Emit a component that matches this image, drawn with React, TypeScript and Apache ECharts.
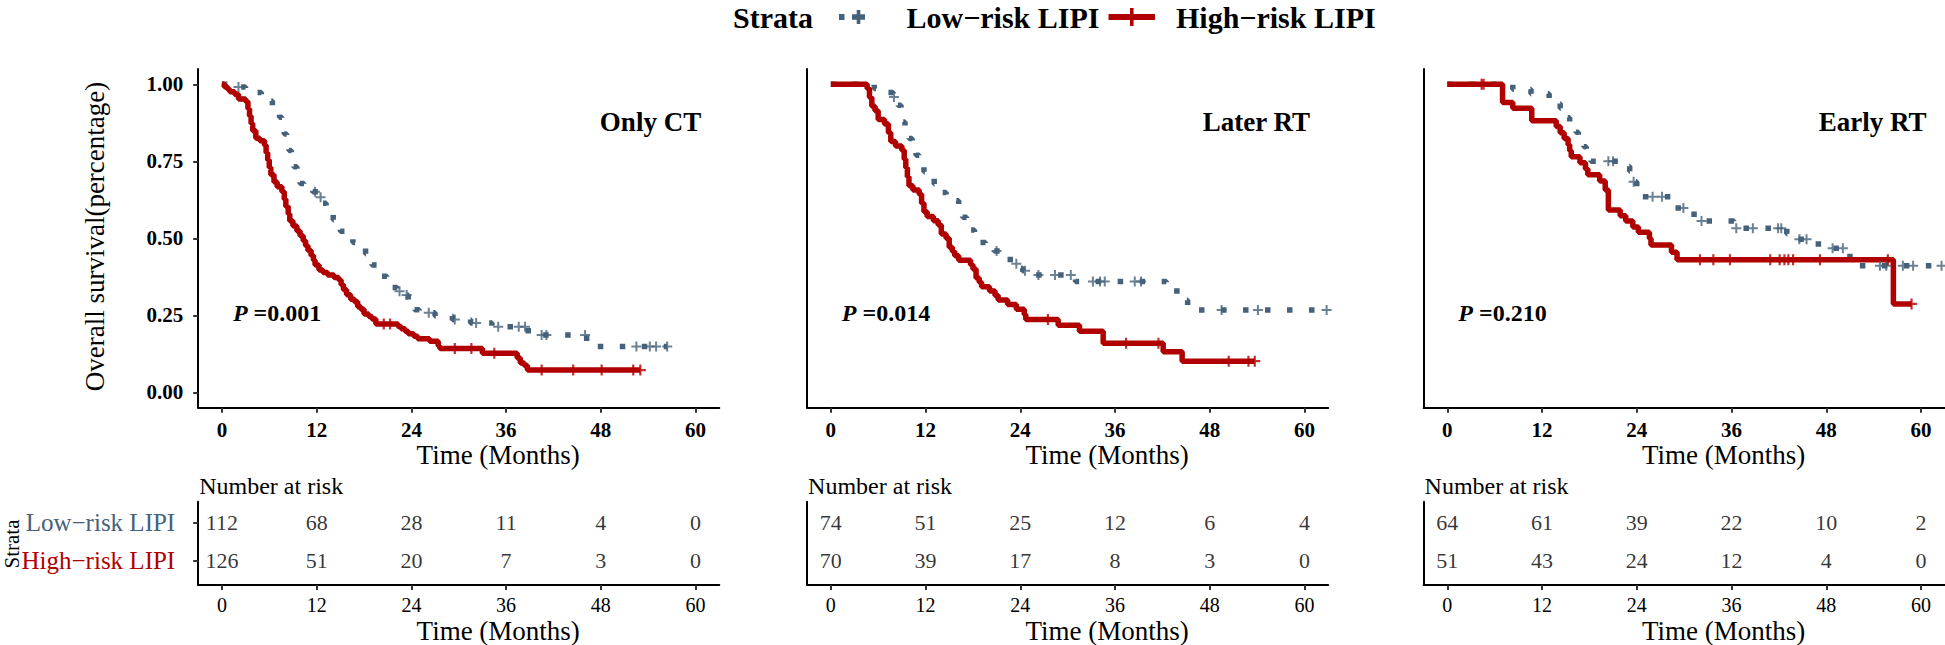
import React, { useEffect, useRef } from 'react';
import * as echarts from 'echarts';

// ---------- data ----------
const MONTH_TICKS = [0, 12, 24, 36, 48, 60];
const SURV_TICKS = [0, 0.25, 0.5, 0.75, 1];
const STRATA = ['Low−risk LIPI', 'High−risk LIPI'];
const PANEL_LABELS = ['Only CT', 'Later RT', 'Early RT'];
const P_VALUES = ['0.001', '0.014', '0.210'];

// Kaplan-Meier steps [month, survival]
const ctLow = [[0,1],[1.5,0.991],[3.0,0.982],[4.2,0.973],[5.0,0.964],[5.8,0.946],[6.4,0.928],[6.9,0.910],[7.3,0.893],[7.6,0.866],[7.9,0.839],[8.2,0.812],[8.5,0.785],[8.8,0.759],[9.1,0.732],[9.5,0.705],[9.9,0.678],[10.4,0.660],[11.5,0.651],[12.4,0.633],[12.8,0.614],[13.2,0.596],[13.6,0.578],[14.1,0.560],[14.5,0.541],[15.0,0.523],[15.8,0.505],[16.6,0.486],[17.5,0.468],[18.2,0.450],[18.6,0.431],[19.0,0.413],[19.6,0.395],[20.2,0.377],[20.9,0.358],[21.5,0.340],[22.2,0.328],[23.0,0.316],[23.6,0.300],[24.0,0.284],[24.4,0.268],[25.0,0.258],[27.0,0.248],[29.2,0.236],[31.5,0.225],[34.2,0.213],[38.8,0.186],[46.2,0.149],[56.4,0.149]];
const ctHigh = [[0,1],[0.3,0.992],[0.7,0.984],[1.0,0.976],[1.6,0.968],[2.1,0.952],[3.0,0.944],[3.3,0.921],[3.5,0.897],[3.7,0.873],[3.9,0.849],[4.3,0.825],[4.8,0.817],[5.4,0.802],[5.6,0.778],[5.8,0.754],[6.0,0.730],[6.2,0.706],[6.6,0.683],[7.0,0.667],[7.6,0.651],[7.9,0.627],[8.1,0.603],[8.4,0.579],[8.6,0.556],[9.0,0.540],[9.5,0.524],[9.9,0.508],[10.3,0.492],[10.6,0.476],[10.9,0.460],[11.3,0.444],[11.6,0.429],[11.8,0.413],[12.3,0.397],[12.8,0.389],[13.4,0.381],[14.2,0.373],[14.8,0.365],[15.1,0.349],[15.4,0.333],[15.8,0.317],[16.3,0.302],[16.8,0.294],[17.2,0.278],[17.6,0.270],[18.0,0.254],[18.6,0.246],[19.0,0.238],[19.5,0.222],[22.3,0.214],[22.7,0.206],[23.2,0.198],[23.6,0.190],[24.3,0.182],[24.8,0.174],[26.3,0.166],[27.4,0.150],[27.6,0.142],[33.0,0.127],[37.4,0.111],[37.8,0.095],[38.3,0.087],[38.7,0.072],[53.0,0.072]];
const ctLowCensor = [2.1, 11.8, 12.5, 22.5, 23.4, 26.2, 29.5, 32.2, 35.0, 37.6, 38.4, 40.5, 41.1, 46.0, 52.5, 54.2, 55.0, 56.4];
const ctHighCensor = [20.5, 21.3, 29.5, 31.6, 34.5, 40.5, 44.5, 48.1, 52.1, 53.0];

const lrLow = [[0,1],[5.5,0.986],[7.2,0.973],[7.9,0.959],[8.5,0.932],[8.9,0.905],[9.1,0.878],[9.4,0.851],[9.9,0.824],[10.3,0.797],[10.8,0.770],[11.2,0.743],[11.8,0.716],[12.4,0.703],[13.1,0.676],[13.7,0.649],[14.6,0.635],[15.5,0.622],[16.2,0.595],[16.7,0.568],[17.2,0.541],[17.7,0.527],[18.2,0.500],[18.7,0.486],[19.6,0.473],[20.7,0.459],[21.6,0.445],[22.3,0.431],[23.2,0.417],[23.9,0.403],[24.3,0.395],[24.8,0.381],[31.0,0.360],[42.5,0.329],[44.2,0.299],[45.2,0.267],[62.8,0.267]];
const lrHigh = [[0,1],[4.6,0.986],[4.9,0.957],[5.2,0.929],[5.6,0.914],[6.0,0.886],[6.8,0.871],[7.3,0.843],[7.6,0.814],[8.2,0.800],[9.0,0.786],[9.3,0.757],[9.5,0.729],[9.7,0.700],[9.9,0.671],[10.4,0.657],[11.2,0.643],[11.5,0.614],[11.8,0.586],[12.2,0.571],[13.0,0.557],[13.6,0.543],[14.0,0.514],[14.6,0.500],[15.0,0.471],[15.4,0.457],[15.7,0.443],[16.2,0.429],[17.7,0.414],[18.0,0.400],[18.4,0.371],[18.8,0.357],[19.1,0.343],[20.1,0.329],[20.8,0.314],[21.2,0.300],[22.4,0.285],[23.5,0.270],[24.5,0.253],[24.7,0.236],[28.8,0.218],[31.5,0.198],[34.5,0.159],[42.1,0.132],[44.5,0.101],[53.7,0.101]];
const lrLowCensor = [8.0, 21.0, 23.5, 24.6, 26.3, 28.4, 30.4, 33.2, 34.1, 34.7, 38.5, 39.3, 49.5, 54.1, 62.8];
const lrHighCensor = [27.5, 37.4, 41.5, 50.4, 52.9, 53.7];

const erLow = [[0,1],[8.3,0.984],[10.6,0.969],[12.9,0.953],[14.0,0.938],[14.3,0.922],[14.6,0.906],[15.2,0.891],[15.5,0.875],[15.8,0.859],[16.3,0.844],[16.6,0.828],[16.9,0.812],[17.3,0.797],[17.6,0.781],[17.9,0.765],[18.2,0.750],[22.0,0.734],[23.1,0.718],[23.3,0.701],[23.5,0.684],[24.0,0.668],[24.3,0.651],[24.6,0.635],[28.4,0.617],[28.7,0.598],[30.6,0.578],[31.8,0.556],[36.3,0.533],[43.0,0.515],[44.3,0.497],[47.0,0.468],[51.0,0.411],[62.6,0.411]];
const erHigh = [[0,1],[7.0,0.941],[8.3,0.922],[10.7,0.882],[13.8,0.863],[14.3,0.843],[14.8,0.824],[15.3,0.804],[15.5,0.784],[15.7,0.765],[16.8,0.745],[17.5,0.725],[17.8,0.706],[19.3,0.686],[20.0,0.657],[20.4,0.592],[21.9,0.573],[22.6,0.556],[23.5,0.537],[24.2,0.520],[25.6,0.499],[25.8,0.478],[28.4,0.455],[29.1,0.430],[56.5,0.287],[58.8,0.287]];
const erLowCensor = [20.4, 21.0, 23.6, 26.0, 27.2, 29.9, 32.2, 36.6, 38.7, 41.9, 42.3, 44.6, 45.5, 48.8, 50.1, 54.8, 55.6, 57.7, 59.0, 62.6];
const erHighCensor = [4.35, 4.6, 32.0, 33.7, 35.8, 40.9, 42.1, 42.7, 43.2, 43.8, 47.2, 55.8, 58.8];

// number at risk at MONTH_TICKS
const riskLow = [[112, 68, 28, 11, 4, 0], [74, 51, 25, 12, 6, 4], [64, 61, 39, 22, 10, 2]];
const riskHigh = [[126, 51, 20, 7, 3, 0], [70, 39, 17, 8, 3, 0], [51, 43, 24, 12, 4, 0]];

const CURVES = [
  { low: ctLow, high: ctHigh, lowC: ctLowCensor, highC: ctHighCensor },
  { low: lrLow, high: lrHigh, lowC: lrLowCensor, highC: lrHighCensor },
  { low: erLow, high: erHigh, lowC: erLowCensor, highC: erHighCensor },
];

// ---------- styling / layout ----------
const FONT = "'Liberation Serif', 'Times New Roman', serif";
const C_LOW = '#46617A';
const C_HIGH = '#B00000';
const XMIN = -3, XMAX = 63;
const YMIN = -0.05, YMAX = 1.05;
const GRID_LEFTS = [198.2, 807.1, 1423.6];
const GRID_W = 521.1;
const MAIN_TOP = 68.9, MAIN_H = 338.8;
const TAB_TOP = 501.7, TAB_H = 83.3;
const TAB_MIN = 0.35, TAB_MAX = 2.55;
const PLUS = 'path://M0,4L10,4L10,6L0,6ZM4,0L6,0L6,10L4,10Z';

const survAt = (steps, t) => {
  let s = 1;
  for (const [tt, ss] of steps) { if (tt <= t) s = ss; else break; }
  return s;
};
const mx = (i, t) => GRID_LEFTS[i] + ((t - XMIN) / (XMAX - XMIN)) * GRID_W;
const sy = (s) => MAIN_TOP + ((YMAX - s) / (YMAX - YMIN)) * MAIN_H;

function txt(x, y, str, size, o: any = {}) {
  return {
    type: 'text', x, y, rotation: o.rotation || 0, z: 100,
    style: {
      text: str, fill: o.color || '#000', fontFamily: FONT, fontSize: size,
      fontWeight: o.weight || 'normal', fontStyle: o.style || 'normal',
      align: o.align || 'left', textAlign: o.align || 'left',
      verticalAlign: 'middle', textVerticalAlign: 'middle',
      rich: o.rich,
    },
  };
}

function buildOption() {
  const grid: any[] = [], xAxis: any[] = [], yAxis: any[] = [], series: any[] = [];
  const axisLine = { show: true, onZero: false, lineStyle: { color: '#000', width: 2 } };
  for (let i = 0; i < 3; i++) {
    grid.push({ left: GRID_LEFTS[i], top: MAIN_TOP, width: GRID_W, height: MAIN_H });
  }
  for (let i = 0; i < 3; i++) {
    grid.push({ left: GRID_LEFTS[i], top: TAB_TOP, width: GRID_W, height: TAB_H });
  }
  for (let i = 0; i < 6; i++) {
    const main = i < 3;
    xAxis.push({
      type: 'value', gridIndex: i, min: XMIN, max: XMAX,
      axisLine,
      axisTick: { show: true, customValues: MONTH_TICKS, length: 5, lineStyle: { color: '#333', width: 2 } },
      axisLabel: {
        show: true, customValues: MONTH_TICKS, margin: main ? 12 : 10,
        fontFamily: FONT, fontSize: main ? 21 : 20, fontWeight: main ? 'bold' : 'normal', color: '#000',
      },
      splitLine: { show: false },
    });
  }
  for (let i = 0; i < 3; i++) {
    yAxis.push({
      type: 'value', gridIndex: i, min: YMIN, max: YMAX,
      axisLine,
      axisTick: { show: i === 0, customValues: SURV_TICKS, length: 5, lineStyle: { color: '#333', width: 2 } },
      axisLabel: {
        show: i === 0, customValues: SURV_TICKS, margin: 15,
        formatter: (v) => Number(v).toFixed(2),
        fontFamily: FONT, fontSize: 21, fontWeight: 'bold', color: '#000',
      },
      splitLine: { show: false },
    });
  }
  for (let i = 0; i < 3; i++) {
    yAxis.push({
      type: 'value', gridIndex: 3 + i, min: TAB_MIN, max: TAB_MAX,
      axisLine,
      axisTick: { show: i === 0, customValues: [1, 2], length: 5, lineStyle: { color: '#333', width: 2 } },
      axisLabel: {
        show: i === 0, customValues: [1, 2], margin: 23,
        formatter: (v) => (Number(v) === 2 ? '{l|' + STRATA[0] + '}' : '{h|' + STRATA[1] + '}'),
        rich: {
          l: { color: C_LOW, fontFamily: FONT, fontSize: 25 },
          h: { color: C_HIGH, fontFamily: FONT, fontSize: 25 },
        },
      },
      splitLine: { show: false },
    });
  }

  CURVES.forEach((c, i) => {
    series.push({
      type: 'line', name: STRATA[0], xAxisIndex: i, yAxisIndex: i, data: c.low, step: 'end',
      symbol: 'none', z: 2, silent: true,
      lineStyle: { color: C_LOW, width: 5.5, type: [5.5, 16.5], cap: 'butt' },
    });
    series.push({
      type: 'line', name: STRATA[1], xAxisIndex: i, yAxisIndex: i, data: c.high, step: 'end',
      symbol: 'none', z: 3, silent: true,
      lineStyle: { color: C_HIGH, width: 5.5 },
    });
    series.push({
      type: 'scatter', xAxisIndex: i, yAxisIndex: i, symbol: PLUS, symbolSize: 10, z: 4, silent: true,
      itemStyle: { color: C_LOW },
      data: c.lowC.map((t) => [t, survAt(c.low, t)]),
    });
    series.push({
      type: 'scatter', xAxisIndex: i, yAxisIndex: i, symbol: PLUS, symbolSize: 11, z: 5, silent: true,
      itemStyle: { color: C_HIGH },
      data: c.highC.map((t) => [t, survAt(c.high, t)]),
    });
    const tableData: any[] = [];
    MONTH_TICKS.forEach((m, k) => {
      tableData.push([m, 2, riskLow[i][k]]);
      tableData.push([m, 1, riskHigh[i][k]]);
    });
    series.push({
      type: 'scatter', xAxisIndex: 3 + i, yAxisIndex: 3 + i, symbolSize: 1, silent: true,
      itemStyle: { color: 'rgba(0,0,0,0)' },
      label: {
        show: true, position: 'inside', formatter: (p) => String(p.value[2]),
        fontFamily: FONT, fontSize: 22, color: '#000',
      },
      data: tableData,
    });
  });

  const LEG_Y = 17;
  const graphic: any[] = [
    txt(733, LEG_Y, 'Strata', 30, { weight: 'bold' }),
    { type: 'rect', shape: { x: 839, y: LEG_Y - 3, width: 5.5, height: 6 }, style: { fill: C_LOW } },
    { type: 'rect', shape: { x: 852, y: LEG_Y - 2.75, width: 13, height: 5.5 }, style: { fill: C_LOW } },
    { type: 'rect', shape: { x: 856.7, y: LEG_Y - 7, width: 3.6, height: 14 }, style: { fill: C_LOW } },
    txt(906.5, LEG_Y, STRATA[0], 30, { weight: 'bold' }),
    { type: 'rect', shape: { x: 1108.5, y: LEG_Y - 3, width: 46.5, height: 6 }, style: { fill: C_HIGH } },
    { type: 'rect', shape: { x: 1130, y: LEG_Y - 9, width: 3.6, height: 18 }, style: { fill: C_HIGH } },
    txt(1176, LEG_Y, STRATA[1], 30, { weight: 'bold' }),
    txt(95, 236.5, 'Overall survival(percentage)', 27, { align: 'center', rotation: Math.PI / 2 }),
    txt(12, 544, 'Strata', 21, { align: 'center', rotation: Math.PI / 2 }),
  ];
  for (let i = 0; i < 3; i++) {
    graphic.push(txt(mx(i, 60.7), sy(0.877), PANEL_LABELS[i], 27, { weight: 'bold', align: 'right' }));
    graphic.push(txt(mx(i, 1.4), sy(0.256), '{i|P} =' + P_VALUES[i], 24, {
      weight: 'bold',
      rich: { i: { fontStyle: 'italic', fontWeight: 'bold', fontFamily: FONT, fontSize: 24 } },
    }));
    graphic.push(txt(mx(i, 35), 454.5, 'Time (Months)', 27, { align: 'center' }));
    graphic.push(txt(GRID_LEFTS[i] + 1, 486, 'Number at risk', 24));
    graphic.push(txt(mx(i, 35), 630.5, 'Time (Months)', 27, { align: 'center' }));
  }

  return { animation: false, backgroundColor: '#fff', grid, xAxis, yAxis, series, graphic };
}

export default function App() {
  const ref = useRef<HTMLDivElement>(null);
  useEffect(() => {
    if (!ref.current) return;
    const chart = echarts.init(ref.current, null, { renderer: 'svg' });
    chart.setOption(buildOption());
    return () => chart.dispose();
  }, []);
  return (
    <div
      ref={ref}
      style={{ position: 'fixed', left: 0, top: 0, width: 1945, height: 645, background: '#fff' }}
    />
  );
}
